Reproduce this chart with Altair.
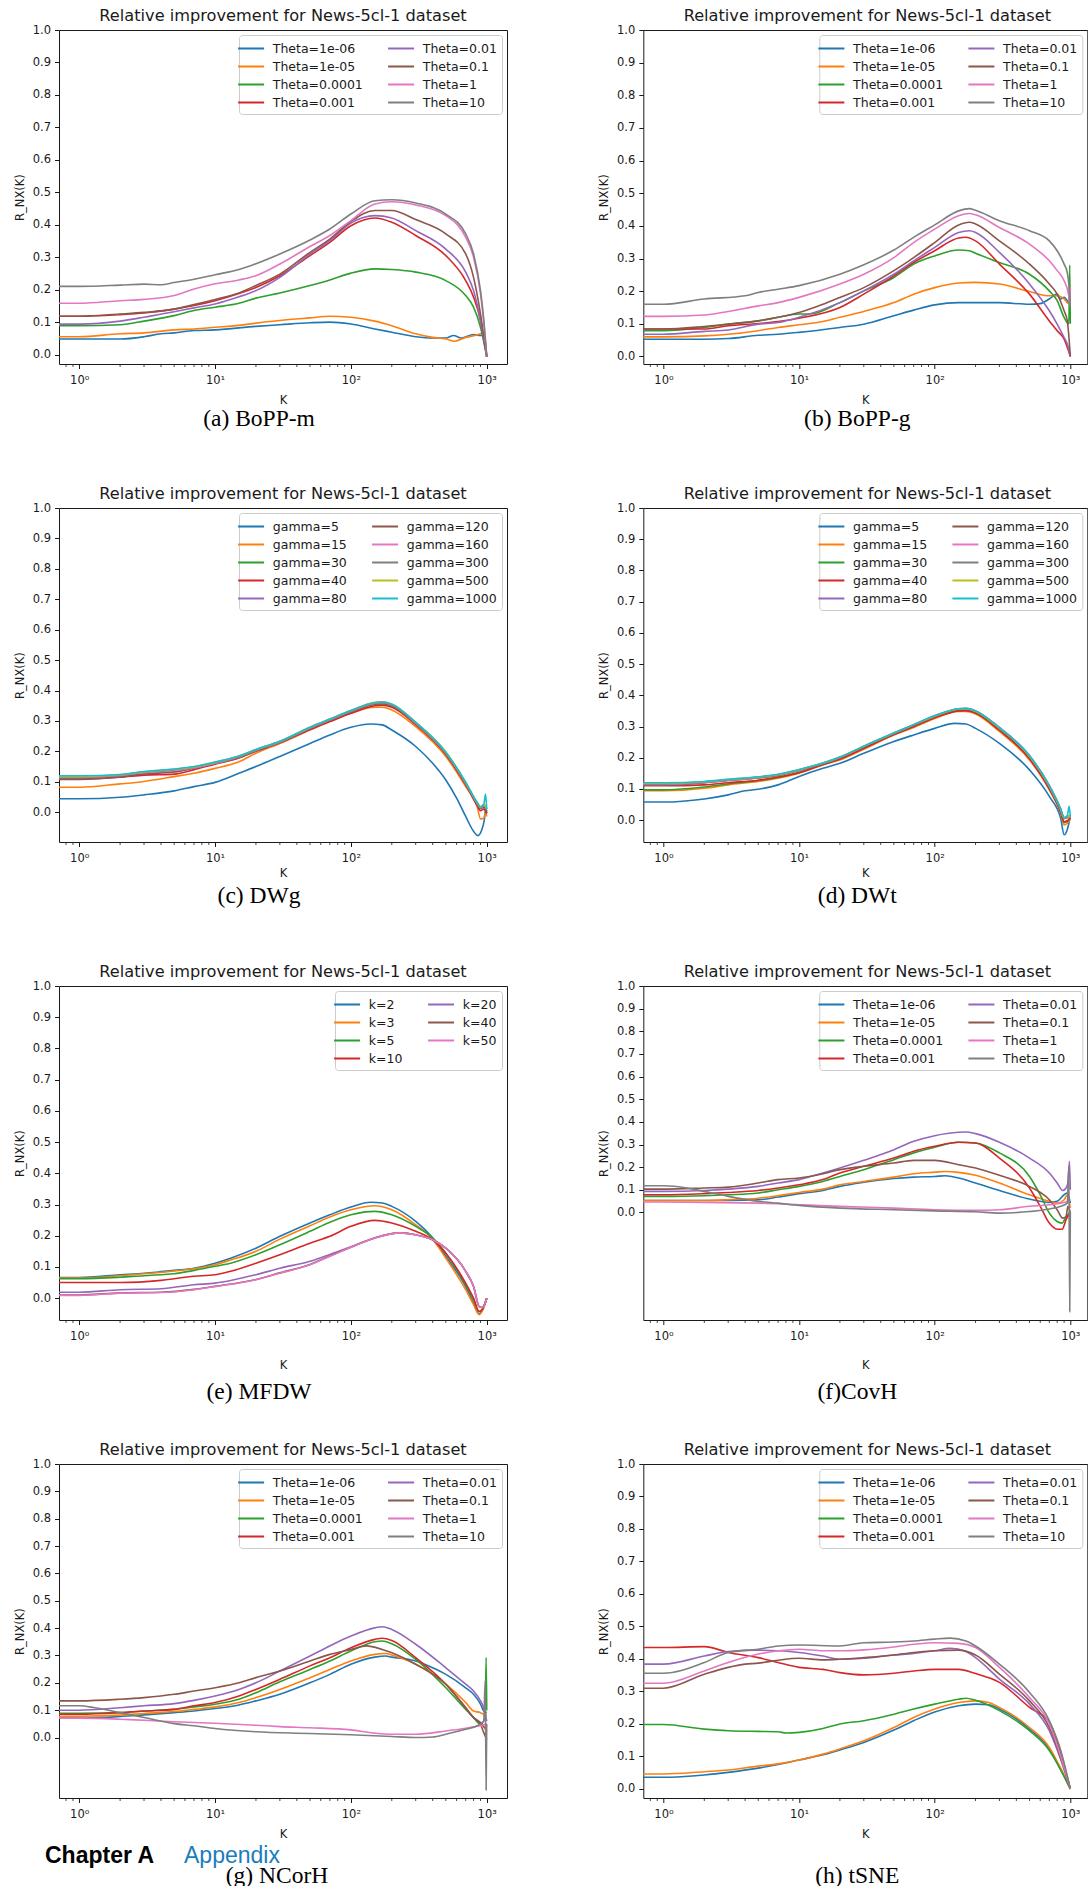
import altair as alt
import pandas as pd

TAB10 = ['#1f77b4', '#ff7f0e', '#2ca02c', '#d62728', '#9467bd',
         '#8c564b', '#e377c2', '#7f7f7f', '#bcbd22', '#17becf']

TITLE = "Relative improvement for News-5cl-1 dataset"
THETA = ["Theta=1e-06", "Theta=1e-05", "Theta=0.0001", "Theta=0.001",
         "Theta=0.01", "Theta=0.1", "Theta=1", "Theta=10"]
GAMMA = ["gamma=5", "gamma=15", "gamma=30", "gamma=40", "gamma=80",
         "gamma=120", "gamma=160", "gamma=300", "gamma=500", "gamma=1000"]
KNN = ["k=2", "k=3", "k=5", "k=10", "k=20", "k=40", "k=50"]

X_TICKS = [1, 10, 100, 1000]
X_TICK_LABELS = ["10\u2070", "10\u00b9", "10\u00b2", "10\u00b3"]
MINOR_TICKS = [0.8, 0.9, 2, 3, 4, 5, 6, 7, 8, 9, 20, 30, 40, 50, 60, 70, 80, 90,
               200, 300, 400, 500, 600, 700, 800, 900]
Y_TICKS = [0.0, 0.1, 0.2, 0.3, 0.4, 0.5, 0.6, 0.7, 0.8, 0.9, 1.0]

# ---------------- (a) BoPP-m ----------------
A = {
 "Theta=1e-06": [(0.71,.048),(2,.048),(3,.055),(4,.064),(5,.067),(7,.074),(10,.076),(20,.087),(30,.092),(50,.098),(70,.1),(100,.094),(150,.079),(200,.069),(300,.055),(400,.051),(500,.051),(570,.059),(650,.051),(800,.062),(900,.059),(950,.06),(1000,-.006)],
 "Theta=1e-05": [(0.71,.055),(1,.055),(2,.064),(3,.067),(5,.076),(7,.079),(10,.084),(15,.09),(20,.097),(30,.105),(50,.113),(70,.118),(100,.115),(150,.103),(200,.089),(300,.064),(400,.053),(500,.048),(580,.041),(700,.053),(900,.064),(950,.069),(1000,-.006)],
 "Theta=0.0001": [(0.71,.089),(1,.089),(2,.092),(3,.103),(5,.12),(7,.136),(10,.146),(15,.158),(20,.174),(30,.19),(50,.213),(70,.23),(100,.251),(150,.264),(200,.262),(300,.254),(500,.228),(700,.182),(800,.146),(900,.084),(950,.04),(1000,-.006)],
 "Theta=0.001": [(0.71,.118),(1,.118),(2,.123),(3,.128),(5,.14),(7,.151),(10,.166),(15,.188),(20,.207),(30,.243),(50,.305),(70,.346),(100,.397),(150,.421),(200,.408),(300,.367),(500,.305),(700,.228),(800,.177),(900,.105),(950,.05),(1000,-.006)],
 "Theta=0.01": [(0.71,.094),(1,.094),(2,.103),(3,.115),(5,.132),(7,.144),(10,.156),(15,.178),(20,.197),(30,.238),(50,.31),(70,.351),(100,.405),(150,.428),(200,.421),(300,.382),(500,.325),(700,.254),(800,.197),(900,.105),(950,.05),(1000,-.006)],
 "Theta=0.1": [(0.71,.118),(1,.118),(2,.125),(3,.13),(5,.14),(7,.154),(10,.17),(15,.19),(20,.213),(30,.248),(50,.315),(70,.356),(100,.41),(150,.444),(200,.444),(300,.416),(500,.372),(700,.31),(800,.238),(900,.125),(950,.06),(1000,-.006)],
 "Theta=1": [(0.71,.158),(1,.158),(2,.166),(3,.17),(5,.182),(7,.202),(10,.218),(15,.23),(20,.243),(30,.279),(50,.333),(70,.367),(100,.413),(150,.464),(200,.471),(300,.461),(500,.428),(700,.361),(800,.3),(900,.187),(950,.1),(1000,-.006)],
 "Theta=10": [(0.71,.21),(1,.21),(2,.214),(3,.217),(4,.215),(5,.222),(7,.232),(10,.246),(15,.262),(20,.28),(30,.31),(50,.353),(70,.387),(100,.433),(150,.474),(200,.477),(300,.467),(500,.433),(700,.372),(800,.31),(900,.197),(950,.11),(1000,-.006)],
}

# ---------------- (b) BoPP-g ----------------
B = {
 "Theta=1e-06": [(0.71,.053),(1,.053),(2,.053),(3,.055),(5,.065),(7,.068),(10,.074),(20,.089),(30,.099),(50,.125),(70,.142),(100,.158),(150,.165),(200,.165),(300,.165),(500,.16),(600,.162),(700,.176),(800,.191),(850,.176),(900,.181),(950,.171),(1000,.16)],
 "Theta=1e-05": [(0.71,.06),(1,.06),(2,.063),(3,.068),(5,.079),(7,.089),(10,.097),(15,.107),(20,.12),(30,.138),(50,.165),(70,.191),(100,.211),(150,.225),(200,.227),(300,.222),(500,.199),(700,.186),(800,.186),(900,.176),(950,.165),(1000,.16)],
 "Theta=0.0001": [(0.71,.079),(1,.079),(2,.089),(3,.099),(5,.109),(7,.12),(10,.13),(12,.13),(20,.165),(30,.201),(50,.242),(70,.283),(100,.308),(150,.326),(180,.324),(200,.316),(300,.288),(500,.252),(700,.201),(800,.171),(900,.12),(975,.1),(990,.28),(1000,.1)],
 "Theta=0.001": [(0.71,.084),(1,.084),(2,.084),(3,.094),(5,.101),(7,.107),(10,.117),(20,.15),(30,.191),(50,.247),(70,.288),(100,.324),(150,.363),(170,.365),(200,.354),(300,.283),(500,.191),(700,.109),(800,.079),(900,.053),(1000,0)],
 "Theta=0.01": [(0.71,.068),(1,.068),(2,.077),(3,.081),(5,.099),(7,.104),(10,.12),(20,.165),(30,.201),(50,.252),(70,.293),(100,.334),(150,.38),(180,.385),(200,.38),(300,.319),(500,.222),(700,.14),(800,.099),(900,.058),(950,.038),(1000,0)],
 "Theta=0.1": [(0.71,.084),(1,.084),(2,.092),(3,.099),(5,.109),(7,.12),(10,.135),(15,.16),(20,.181),(30,.211),(50,.263),(70,.303),(100,.349),(150,.403),(180,.411),(200,.406),(300,.354),(500,.283),(700,.222),(800,.191),(900,.14),(950,.109),(1000,0)],
 "Theta=1": [(0.71,.123),(1,.123),(2,.127),(3,.138),(5,.155),(7,.165),(10,.181),(20,.222),(30,.252),(50,.303),(70,.349),(100,.39),(150,.431),(180,.438),(200,.434),(300,.395),(500,.344),(700,.293),(800,.263),(900,.232),(970,.19),(990,.16),(1000,.21)],
 "Theta=10": [(0.71,.16),(1,.16),(2,.176),(4,.186),(5,.196),(7,.206),(10,.217),(20,.252),(30,.281),(50,.326),(70,.365),(100,.403),(150,.446),(180,.453),(200,.448),(300,.416),(500,.385),(700,.354),(800,.324),(900,.283),(950,.257),(980,.211),(1000,.15)],
}

# ---------------- (c) DWg ----------------
C = {
 "gamma=5": [(0.71,.044),(1,.044),(2,.049),(3,.057),(5,.07),(7,.084),(10,.098),(15,.128),(20,.15),(30,.183),(50,.226),(70,.254),(100,.279),(140,.29),(170,.287),(200,.27),(300,.216),(400,.161),(500,.106),(600,.046),(700,-.014),(800,-.063),(860,-.077),(920,-.058),(960,-.025),(985,.013),(1000,-.003)],
 "gamma=15": [(0.71,.082),(1,.082),(2,.093),(3,.101),(5,.117),(7,.128),(10,.144),(15,.166),(20,.194),(30,.226),(50,.27),(70,.298),(100,.325),(150,.345),(170,.345),(200,.336),(300,.281),(500,.183),(700,.084),(850,.019),(900,-.022),(950,-.02),(980,-.003),(1000,-.014)],
 "gamma=30": [(0.71,.113),(1,.113),(2,.12),(3,.13),(5,.138),(7,.147),(10,.162),(15,.18),(20,.202),(30,.229),(50,.273),(70,.3),(100,.327),(150,.355),(170,.357),(200,.35),(300,.29),(500,.192),(700,.093),(850,.028),(900,.012),(950,.018),(1000,.003)],
 "gamma=40": [(0.71,.11),(1,.11),(2,.115),(3,.122),(5,.125),(7,.14),(10,.158),(15,.178),(20,.2),(30,.228),(50,.272),(70,.298),(100,.325),(150,.35),(170,.352),(200,.345),(300,.288),(500,.19),(700,.09),(850,.022),(900,.005),(950,.01),(1000,-.005)],
 "gamma=80": [(0.71,.112),(1,.112),(2,.117),(3,.128),(5,.133),(7,.145),(10,.16),(15,.18),(20,.203),(30,.23),(50,.275),(70,.302),(100,.33),(150,.357),(170,.358),(200,.352),(300,.292),(500,.194),(700,.095),(850,.03),(900,.014),(950,.02),(1000,.005)],
 "gamma=120": [(0.71,.108),(1,.108),(2,.116),(3,.126),(5,.132),(7,.146),(10,.16),(15,.18),(20,.202),(30,.23),(50,.275),(70,.302),(100,.33),(150,.356),(170,.357),(200,.35),(300,.291),(500,.193),(700,.094),(850,.028),(900,.012),(950,.016),(1000,.0)],
 "gamma=160": [(0.71,.115),(1,.115),(2,.121),(3,.13),(5,.137),(7,.146),(10,.161),(15,.182),(20,.204),(30,.231),(50,.277),(70,.304),(100,.332),(150,.358),(170,.36),(200,.353),(300,.293),(500,.195),(700,.096),(850,.03),(900,.015),(950,.022),(1000,.01)],
 "gamma=300": [(0.71,.116),(1,.116),(2,.122),(3,.132),(5,.14),(7,.148),(10,.163),(15,.183),(20,.205),(30,.232),(50,.278),(70,.305),(100,.333),(150,.36),(170,.361),(200,.354),(300,.294),(500,.196),(700,.097),(850,.031),(900,.016),(950,.024),(1000,.01)],
 "gamma=500": [(0.71,.117),(1,.117),(2,.123),(3,.133),(5,.141),(7,.149),(10,.164),(15,.185),(20,.206),(30,.233),(50,.279),(70,.306),(100,.334),(150,.361),(170,.363),(200,.356),(300,.296),(500,.198),(700,.099),(850,.032),(900,.017),(950,.025),(1000,.012)],
 "gamma=1000": [(0.71,.12),(1,.12),(2,.124),(3,.134),(5,.142),(7,.15),(10,.165),(15,.185),(20,.206),(30,.233),(50,.279),(70,.306),(100,.334),(150,.36),(170,.362),(200,.355),(300,.295),(500,.197),(700,.098),(850,.032),(900,.018),(950,.024),(980,.06),(1000,.01)],
}

# ---------------- (d) DWt ----------------
D = {
 "gamma=5": [(0.71,.058),(1,.058),(2,.068),(3,.081),(4,.094),(5,.099),(7,.113),(10,.14),(15,.166),(20,.182),(30,.214),(50,.252),(70,.273),(100,.294),(140,.31),(170,.308),(200,.294),(300,.246),(500,.161),(700,.076),(850,.005),(900,-.047),(950,-.03),(1000,.012)],
 "gamma=15": [(0.71,.094),(1,.094),(2,.102),(3,.113),(5,.124),(7,.134),(10,.15),(15,.177),(20,.193),(30,.227),(50,.273),(70,.297),(100,.326),(150,.348),(170,.348),(200,.34),(300,.284),(500,.193),(700,.097),(850,.022),(900,-.015),(950,-.01),(1000,.006)],
 "gamma=30": [(0.71,.097),(1,.097),(2,.106),(3,.116),(5,.127),(7,.137),(10,.153),(15,.179),(20,.196),(30,.231),(50,.275),(70,.3),(100,.329),(150,.351),(170,.352),(200,.344),(300,.289),(500,.198),(700,.102),(850,.026),(900,-.008),(950,-.004),(1000,.008)],
 "gamma=40": [(0.71,.11),(1,.11),(2,.113),(3,.12),(5,.128),(7,.138),(10,.152),(15,.178),(20,.196),(30,.23),(50,.274),(70,.3),(100,.328),(150,.35),(170,.351),(200,.343),(300,.288),(500,.197),(700,.1),(850,.025),(900,-.005),(950,-.002),(1000,.006)],
 "gamma=80": [(0.71,.113),(1,.113),(2,.12),(3,.128),(5,.136),(7,.144),(10,.16),(15,.182),(20,.201),(30,.236),(50,.279),(70,.306),(100,.334),(150,.357),(170,.358),(200,.35),(300,.297),(500,.207),(700,.111),(850,.035),(900,.006),(950,.01),(1000,.01)],
 "gamma=120": [(0.71,.112),(1,.112),(2,.12),(3,.127),(5,.135),(7,.143),(10,.159),(15,.181),(20,.2),(30,.235),(50,.278),(70,.305),(100,.333),(150,.355),(170,.356),(200,.348),(300,.294),(500,.204),(700,.108),(850,.033),(900,.005),(950,.008),(1000,.008)],
 "gamma=160": [(0.71,.114),(1,.114),(2,.121),(3,.128),(5,.136),(7,.145),(10,.16),(15,.182),(20,.201),(30,.236),(50,.278),(70,.305),(100,.333),(150,.356),(170,.357),(200,.349),(300,.295),(500,.205),(700,.109),(850,.034),(900,.006),(950,.01),(1000,.01)],
 "gamma=300": [(0.71,.116),(1,.116),(2,.122),(3,.129),(5,.137),(7,.145),(10,.161),(15,.182),(20,.201),(30,.236),(50,.278),(70,.305),(100,.333),(150,.356),(170,.357),(200,.349),(300,.295),(500,.205),(700,.109),(850,.034),(900,.007),(950,.012),(1000,.012)],
 "gamma=500": [(0.71,.118),(1,.118),(2,.123),(3,.13),(5,.138),(7,.146),(10,.162),(15,.183),(20,.202),(30,.237),(50,.279),(70,.306),(100,.334),(150,.356),(170,.357),(200,.349),(300,.295),(500,.205),(700,.109),(850,.034),(900,.008),(950,.013),(1000,.012)],
 "gamma=1000": [(0.71,.12),(1,.12),(2,.124),(3,.131),(5,.139),(7,.147),(10,.162),(15,.183),(20,.202),(30,.237),(50,.279),(70,.306),(100,.335),(150,.357),(170,.358),(200,.35),(300,.296),(500,.206),(700,.11),(850,.035),(900,.008),(950,.014),(980,.044),(1000,.012)],
}

# ---------------- (e) MFDW ----------------
E = {
 "k=2": [(0.71,.066),(1,.066),(2,.075),(3,.08),(5,.089),(7,.096),(10,.112),(13,.128),(20,.16),(30,.198),(50,.241),(70,.267),(100,.292),(140,.307),(170,.305),(200,.294),(300,.246),(400,.193),(500,.134),(700,.037),(800,-.016),(880,-.051),(930,-.037),(1000,0)],
 "k=3": [(0.71,.064),(1,.064),(2,.072),(3,.078),(5,.087),(7,.094),(10,.107),(13,.122),(20,.15),(30,.189),(50,.232),(70,.26),(100,.283),(150,.296),(200,.283),(300,.235),(400,.189),(500,.128),(700,.027),(800,-.021),(880,-.053),(930,-.04),(1000,0)],
 "k=5": [(0.71,.062),(1,.062),(2,.067),(3,.072),(4,.075),(5,.078),(7,.089),(10,.102),(13,.112),(20,.139),(30,.171),(50,.214),(70,.243),(100,.267),(150,.278),(200,.267),(300,.23),(400,.193),(500,.144),(700,.043),(800,-.005),(880,-.043),(930,-.035),(1000,0)],
 "k=10": [(0.71,.05),(1,.05),(2,.05),(4,.057),(7,.07),(10,.075),(13,.086),(20,.112),(30,.139),(50,.176),(70,.198),(100,.23),(150,.249),(200,.241),(300,.214),(400,.187),(500,.144),(700,.048),(800,0),(880,-.043),(930,-.035),(1000,0)],
 "k=20": [(0.71,.019),(1,.019),(2,.027),(4,.03),(7,.043),(10,.048),(20,.075),(30,.096),(50,.118),(70,.14),(100,.165),(150,.193),(230,.209),(300,.203),(400,.187),(500,.16),(700,.086),(800,.037),(880,-.027),(930,-.03),(1000,0)],
 "k=40": [(0.71,.01),(1,.01),(2,.017),(4,.019),(7,.028),(10,.038),(20,.06),(30,.081),(50,.108),(70,.135),(100,.163),(150,.193),(230,.209),(300,.203),(400,.187),(500,.16),(700,.086),(800,.037),(880,-.027),(930,-.03),(1000,0)],
 "k=50": [(0.71,.009),(1,.009),(2,.016),(4,.018),(7,.027),(10,.037),(20,.059),(30,.08),(50,.107),(70,.134),(100,.163),(150,.193),(230,.209),(300,.203),(400,.187),(500,.16),(700,.086),(800,.037),(880,-.027),(930,-.03),(1000,0)],
}

# ---------------- (f) CovH ----------------
F = {
 "Theta=1e-06": [(0.71,.053),(1,.053),(3,.053),(5,.056),(7,.068),(10,.083),(15,.097),(20,.115),(30,.133),(50,.15),(70,.156),(100,.159),(120,.162),(150,.152),(200,.13),(300,.097),(500,.059),(700,.044),(800,.049),(900,.078),(950,.086),(1000,.041)],
 "Theta=1e-05": [(0.71,.053),(1,.053),(2,.053),(3,.056),(5,.063),(7,.074),(10,.088),(15,.103),(20,.122),(30,.137),(50,.156),(70,.171),(100,.178),(120,.181),(150,.177),(200,.164),(300,.13),(500,.078),(700,.049),(800,.041),(900,.056),(950,.078),(1000,.019)],
 "Theta=0.0001": [(0.71,.071),(1,.071),(2,.074),(3,.078),(5,.086),(7,.1),(10,.115),(15,.137),(20,.159),(30,.189),(50,.233),(70,.263),(100,.288),(150,.31),(200,.307),(300,.263),(500,.159),(600,.078),(700,-.003),(800,-.04),(870,-.047),(930,-.018),(1000,0)],
 "Theta=0.001": [(0.71,.078),(1,.078),(2,.083),(3,.088),(5,.097),(7,.108),(10,.122),(15,.145),(20,.174),(30,.204),(50,.24),(70,.27),(100,.292),(150,.31),(200,.307),(300,.24),(500,.108),(600,.027),(700,-.047),(800,-.074),(870,-.074),(930,-.032),(1000,0)],
 "Theta=0.01": [(0.71,.093),(1,.093),(2,.097),(3,.103),(5,.115),(7,.13),(10,.145),(15,.174),(20,.196),(30,.23),(50,.277),(70,.314),(100,.339),(150,.354),(170,.355),(200,.348),(300,.31),(500,.24),(700,.174),(800,.13),(880,.097),(930,.108),(960,.13),(985,.226),(1000,.1)],
 "Theta=0.1": [(0.71,.103),(1,.103),(2,.108),(3,.112),(5,.13),(7,.145),(10,.152),(15,.171),(20,.189),(30,.204),(50,.218),(70,.23),(100,.23),(150,.211),(200,.196),(300,.164),(500,.115),(700,.056),(800,.012),(880,-.025),(930,-.018),(960,.027),(1000,.0)],
 "Theta=1": [(0.71,.046),(1,.046),(2,.044),(5,.041),(10,.034),(20,.027),(50,.019),(100,.012),(200,.009),(300,.012),(500,.027),(700,.034),(900,.044),(1000,.052)],
 "Theta=10": [(0.71,.118),(1,.118),(1.2,.116),(2,.093),(3,.071),(5,.049),(7,.041),(10,.031),(20,.019),(50,.012),(100,.007),(200,.003),(300,-.003),(500,.004),(700,.015),(850,.027),(950,.041),(975,.2),(990,-.438),(1000,0)],
}

# ---------------- (g) NCorH ----------------
G = {
 "Theta=1e-06": [(0.71,.071),(1,.071),(2,.077),(3,.083),(5,.091),(7,.097),(10,.106),(15,.119),(20,.134),(30,.158),(50,.2),(70,.231),(100,.268),(150,.294),(180,.298),(200,.294),(300,.28),(400,.255),(500,.231),(700,.182),(800,.158),(900,.122),(950,.097),(1000,.09)],
 "Theta=1e-05": [(0.71,.078),(1,.078),(2,.082),(3,.088),(5,.095),(7,.103),(10,.112),(15,.128),(20,.146),(30,.176),(50,.219),(70,.249),(100,.28),(150,.304),(180,.307),(200,.302),(300,.268),(500,.195),(700,.128),(800,.097),(900,.091),(950,.085),(1000,.08)],
 "Theta=0.0001": [(0.71,.089),(1,.089),(2,.091),(3,.097),(5,.103),(7,.112),(10,.122),(15,.14),(20,.164),(30,.204),(50,.249),(70,.28),(100,.316),(150,.35),(170,.353),(200,.343),(300,.286),(500,.182),(700,.103),(800,.073),(900,.049),(975,.073),(990,.292),(1000,.1)],
 "Theta=0.001": [(0.71,.085),(1,.085),(2,.091),(3,.097),(5,.103),(7,.116),(10,.128),(15,.152),(20,.176),(30,.213),(50,.262),(70,.292),(100,.328),(150,.359),(170,.363),(200,.355),(300,.292),(500,.195),(700,.109),(800,.073),(900,.055),(1000,.024)],
 "Theta=0.01": [(0.71,.1),(1,.1),(2,.109),(3,.116),(5,.124),(7,.136),(10,.152),(15,.176),(20,.2),(30,.243),(50,.298),(70,.335),(100,.371),(150,.401),(170,.405),(200,.395),(300,.341),(500,.255),(700,.195),(800,.17),(900,.134),(950,.109),(1000,.06)],
 "Theta=0.1": [(0.71,.134),(1,.134),(2,.14),(3,.146),(5,.158),(7,.17),(10,.182),(15,.2),(20,.219),(30,.243),(50,.28),(70,.304),(100,.322),(130,.335),(170,.322),(200,.31),(300,.268),(500,.195),(700,.109),(800,.073),(900,.049),(950,.018),(1000,-.006)],
 "Theta=1": [(0.71,.071),(1,.071),(2,.067),(3,.063),(5,.058),(10,.052),(20,.045),(30,.04),(50,.036),(100,.028),(150,.016),(200,.012),(300,.012),(500,.024),(700,.034),(800,.039),(900,.043),(1000,.05)],
 "Theta=10": [(0.71,.116),(1,.116),(1.3,.109),(2,.091),(3,.073),(5,.051),(7,.043),(10,.033),(20,.021),(50,.015),(100,.01),(200,.004),(300,0),(400,.002),(500,.012),(700,.03),(850,.043),(950,.061),(975,.207),(990,-.192),(1000,.05)],
}

# ---------------- (h) tSNE ----------------
H = {
 "Theta=1e-06": [(0.71,.036),(1,.036),(2,.043),(3,.051),(5,.064),(7,.075),(10,.089),(15,.105),(20,.12),(30,.143),(50,.181),(70,.21),(100,.237),(150,.256),(200,.261),(250,.259),(300,.246),(500,.184),(700,.123),(850,.06),(1000,0)],
 "Theta=1e-05": [(0.71,.046),(1,.046),(2,.053),(3,.058),(5,.07),(7,.077),(10,.089),(15,.107),(20,.123),(30,.148),(50,.189),(70,.22),(100,.246),(150,.266),(200,.271),(250,.266),(300,.251),(500,.189),(700,.128),(850,.063),(1000,0)],
 "Theta=0.0001": [(0.71,.198),(1,.198),(2,.184),(3,.179),(5,.177),(7,.176),(8,.172),(10,.174),(15,.186),(20,.2),(30,.21),(50,.23),(70,.246),(100,.261),(150,.276),(170,.279),(200,.273),(300,.241),(500,.179),(700,.118),(850,.058),(1000,0)],
 "Theta=0.001": [(0.71,.435),(1,.435),(2,.438),(3,.42),(5,.404),(7,.389),(10,.374),(15,.368),(20,.358),(30,.351),(50,.356),(70,.363),(100,.368),(150,.368),(200,.355),(300,.328),(500,.251),(700,.205),(850,.11),(1000,0)],
 "Theta=0.01": [(0.71,.384),(1,.384),(2,.409),(3,.423),(5,.427),(7,.425),(10,.42),(15,.409),(20,.399),(30,.402),(50,.412),(70,.417),(100,.425),(130,.433),(170,.423),(200,.404),(300,.338),(500,.261),(700,.179),(850,.09),(1000,0)],
 "Theta=0.1": [(0.71,.31),(1,.31),(2,.353),(3,.374),(4,.384),(5,.387),(7,.396),(10,.402),(15,.397),(20,.399),(30,.404),(50,.412),(70,.42),(100,.425),(150,.427),(200,.412),(300,.353),(500,.271),(700,.189),(850,.095),(1000,0)],
 "Theta=1": [(0.71,.325),(1,.325),(2,.363),(3,.389),(5,.415),(7,.425),(10,.43),(15,.425),(20,.425),(30,.428),(50,.437),(70,.445),(100,.45),(150,.448),(200,.435),(300,.374),(500,.281),(700,.2),(850,.1),(1000,0)],
 "Theta=10": [(0.71,.356),(1,.356),(2,.389),(3,.42),(5,.43),(7,.44),(10,.443),(20,.44),(30,.45),(50,.452),(70,.455),(100,.461),(130,.464),(170,.455),(200,.44),(300,.384),(500,.297),(700,.21),(850,.118),(1000,0)],
}

XMIN = 0.71
W_LEFT, W_RIGHT, PH = 448, 444, 334
XMAX_LEFT, XMAX_RIGHT = 1410, 1334

TEXT = "#1a1a1a"
LEGEND_LINE = "M-1.733,0H1.733"


def label_expr(vals, labels):
    e = "''"
    for v, l in reversed(list(zip(vals, labels))):
        e = f"datum.value == {v} ? '{l}' : ({e})"
    return e


def panel(series, names, ymin, caption, left_col, cap_dx, cap_dy, k_pad, extra=None):
    width = W_LEFT if left_col else W_RIGHT
    xmax = XMAX_LEFT if left_col else XMAX_RIGHT
    rows = []
    for i, nm in enumerate(names):
        for k, v in series[nm]:
            rows.append({"K": k, "R": v, "series": nm, "z": i})
    df = pd.DataFrame(rows)
    colors = TAB10[:len(names)]
    xscale = alt.Scale(type="log", domain=[XMIN, xmax], nice=False)
    yscale = alt.Scale(domain=[ymin, 1.0], nice=False, zero=False)

    lines = alt.Chart(df).mark_line(strokeWidth=1.6, interpolate="monotone").encode(
        x=alt.X("K:Q", scale=xscale,
                axis=alt.Axis(values=X_TICKS, labelExpr=label_expr(X_TICKS, X_TICK_LABELS),
                              title="K", labelPadding=6, titlePadding=k_pad, tickSize=4.5,
                              labelFlush=False)),
        y=alt.Y("R:Q", scale=yscale,
                axis=alt.Axis(values=Y_TICKS, format=".1f", title="R_NX(K)",
                              tickSize=4.5, labelPadding=4, titlePadding=7)),
        color=alt.Color("series:N", scale=alt.Scale(domain=names, range=colors),
                        legend=alt.Legend(title=None, orient="top-right",
                                          offset=5,
                                          columns=2, symbolType=LEGEND_LINE,
                                          symbolSize=225, symbolStrokeWidth=2,
                                          symbolOffset=-1.4,
                                          labelFont="DejaVu Sans", labelFontSize=12.5,
                                          labelColor=TEXT, labelOffset=13.2,
                                          rowPadding=3, columnPadding=21, padding=5,
                                          fillColor="white", strokeColor="#cccccc",
                                          cornerRadius=3)),
        detail="z:O",
    )
    minor = alt.Chart(pd.DataFrame({"K": MINOR_TICKS})).mark_rule(
        color=TEXT, strokeWidth=0.8).encode(
        x=alt.X("K:Q", scale=xscale),
        y=alt.value(PH), y2=alt.value(PH + 3),
    )
    title = alt.Chart(pd.DataFrame({"t": [TITLE]})).mark_text(
        font="DejaVu Sans", fontSize=16.2, color=TEXT, align="center", baseline="middle"
    ).encode(text="t:N", x=alt.value(224), y=alt.value(-14.5))
    cap = alt.Chart(pd.DataFrame({"t": [caption]})).mark_text(
        font="Liberation Serif", fontSize=23.5, color="#000", align="center", baseline="middle"
    ).encode(text="t:N", x=alt.value(cap_dx), y=alt.value(PH + cap_dy))
    layers = [lines, minor, title, cap]
    if extra is not None:
        layers += extra
    return alt.layer(*layers).properties(width=width, height=PH)


CHAPTER = ["Chapter A"]
APPENDIX = ["Appendix"]
header = [
    alt.Chart(pd.DataFrame({"t": CHAPTER})).mark_text(
        font="Liberation Sans", fontSize=23, fontWeight="bold", color="#000",
        align="left", baseline="alphabetic").encode(
        text="t:N", x=alt.value(-14), y=alt.value(PH + 65)),
    alt.Chart(pd.DataFrame({"t": APPENDIX})).mark_text(
        font="Liberation Sans", fontSize=23, color="#1a7dc0",
        align="left", baseline="alphabetic").encode(
        text="t:N", x=alt.value(125), y=alt.value(PH + 65)),
]

panels = [
    panel(A, THETA, -0.029, "(a) BoPP-m", True, 200, 55, 8),
    panel(B, THETA, -0.023, "(b) BoPP-g", False, 214, 55, 8),
    panel(C, GAMMA, -0.098, "(c) DWg", True, 200, 54, 3.5),
    panel(D, GAMMA, -0.070, "(d) DWt", False, 214, 54, 3.5),
    panel(E, KNN, -0.070, "(e) MFDW", True, 200, 71.5, 17),
    panel(F, THETA, -0.475, "(f)CovH", False, 214, 71.5, 17),
    panel(G, THETA, -0.221, "(g) NCorH", True, 218, 78, 8, extra=header),
    panel(H, THETA, -0.028, "(h) tSNE", False, 214, 78, 8),
]

chart = alt.concat(
    *panels, columns=2,
    spacing=alt.RowColnumber(row=144, column=136.3),
    bounds="flush",
).properties(
    padding={"left": 13, "top": 7, "right": 0, "bottom": 0},
).resolve_scale(color="independent", x="independent", y="independent").configure_view(
    stroke="#1a1a1a", strokeWidth=1
).configure_axis(
    labelFont="DejaVu Sans", labelFontSize=11.5, labelColor=TEXT,
    titleFont="DejaVu Sans", titleFontSize=11.5, titleFontWeight="normal", titleColor=TEXT,
    tickColor=TEXT, domain=False, grid=False,
)

chart.save("out.html", embed_options={"renderer": "svg", "actions": False})
